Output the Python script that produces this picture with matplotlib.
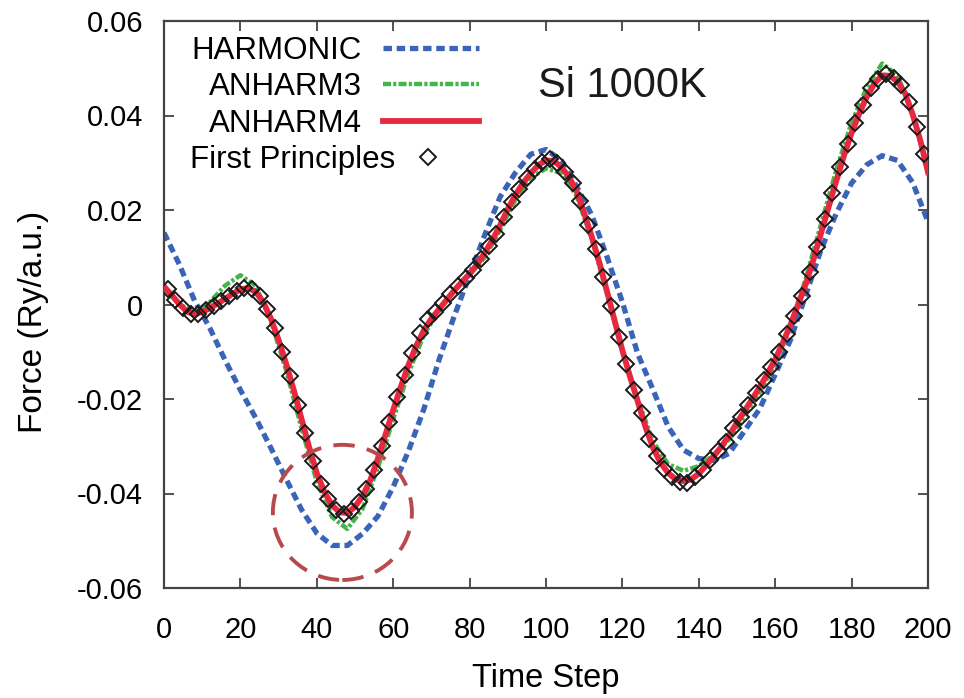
import matplotlib
matplotlib.use("Agg")
import numpy as np
import matplotlib.pyplot as plt
from matplotlib.patches import Ellipse
from matplotlib.legend_handler import HandlerLine2D

# ---------------- data ----------------
harm_x = list(range(0, 201, 4))
harmonic = [0.0152, 0.0085, 0.0008, -0.0050, -0.0118, -0.0181, -0.0240, -0.0304, -0.0370, -0.0434,
            -0.0484, -0.0510, -0.0510, -0.0485, -0.0448, -0.0386, -0.0310, -0.0222, -0.0117, -0.0024,
            0.0062, 0.0148, 0.0228, 0.0279, 0.0318, 0.0328, 0.0305, 0.0250, 0.0189, 0.0100,
            0.0005, -0.0104, -0.0180, -0.0259, -0.0308, -0.0326, -0.0330, -0.0315, -0.0267, -0.0220,
            -0.0148, -0.0075, 0.0020, 0.0116, 0.0193, 0.0257, 0.0296, 0.0315, 0.0305, 0.0258,
            0.0175]

anh3_x = list(range(0, 201, 4))
anharm3 = [0.0036, 0.0000, -0.0015, 0.0005, 0.0040, 0.0062, 0.0040, -0.0035, -0.0140, -0.0262,
           -0.0375, -0.0450, -0.0475, -0.0432, -0.0345, -0.0243, -0.0145, -0.0065, -0.0012, 0.0028,
           0.0063, 0.0100, 0.0158, 0.0222, 0.0268, 0.0288, 0.0278, 0.0230, 0.0138, 0.0022,
           -0.0100, -0.0200, -0.0290, -0.0338, -0.0352, -0.0342, -0.0318, -0.0285, -0.0235, -0.0185,
           -0.0125, -0.0045, 0.0055, 0.0170, 0.0285, 0.0385, 0.0460, 0.0510, 0.0485, 0.0405,
           0.0280]

anh4_x = list(range(0, 201, 2))
anharm4 = [0.0038, 0.0020, 0.0001, -0.0015, -0.0021, -0.0016, -0.0008, 0.0002, 0.0012, 0.0023,
           0.0032, 0.0035, 0.0027, 0.0005, -0.0030, -0.0075, -0.0126, -0.0182, -0.0242, -0.0302,
           -0.0357, -0.0397, -0.0425, -0.0440, -0.0441, -0.0428, -0.0405, -0.0372, -0.0326, -0.0275,
           -0.0223, -0.0174, -0.0128, -0.0088, -0.0055, -0.0030, -0.0010, 0.0010, 0.0030, 0.0048,
           0.0065, 0.0085, 0.0110, 0.0137, 0.0168, 0.0202, 0.0232, 0.0257, 0.0278, 0.0295,
           0.0305, 0.0304, 0.0291, 0.0270, 0.0240, 0.0193, 0.0143, 0.0088, 0.0027, -0.0035,
           -0.0097, -0.0153, -0.0205, -0.0258, -0.0303, -0.0335, -0.0357, -0.0370, -0.0374, -0.0370,
           -0.0358, -0.0340, -0.0320, -0.0300, -0.0276, -0.0250, -0.0225, -0.0200, -0.0174, -0.0146,
           -0.0116, -0.0081, -0.0043, 0.0000, 0.0043, 0.0095, 0.0151, 0.0207, 0.0262, 0.0315,
           0.0363, 0.0404, 0.0440, 0.0468, 0.0485, 0.0484, 0.0472, 0.0447, 0.0402, 0.0347,
           0.0280]

fp_x = list(range(1, 200, 2))
first_principles = [0.0032, 0.0010, -0.0008, -0.0020, -0.0021, -0.0011, -0.0004, 0.0007, 0.0017, 0.0028,
                    0.0035, 0.0033, 0.0018, -0.0010, -0.0050, -0.0100, -0.0152, -0.0212, -0.0272, -0.0332,
                    -0.0380, -0.0412, -0.0435, -0.0443, -0.0437, -0.0418, -0.0390, -0.0350, -0.0300, -0.0248,
                    -0.0196, -0.0150, -0.0103, -0.0060, -0.0030, -0.0016, 0.0003, 0.0022, 0.0040, 0.0056,
                    0.0074, 0.0097, 0.0123, 0.0150, 0.0186, 0.0217, 0.0245, 0.0268, 0.0287, 0.0302,
                    0.0307, 0.0299, 0.0280, 0.0257, 0.0219, 0.0168, 0.0118, 0.0058, -0.0003, -0.0068,
                    -0.0125, -0.0180, -0.0230, -0.0285, -0.0320, -0.0348, -0.0365, -0.0376, -0.0378, -0.0366,
                    -0.0350, -0.0330, -0.0310, -0.0290, -0.0262, -0.0238, -0.0213, -0.0188, -0.0160, -0.0132,
                    -0.0100, -0.0062, -0.0025, 0.0018, 0.0068, 0.0122, 0.0180, 0.0235, 0.0290, 0.0340,
                    0.0385, 0.0422, 0.0458, 0.0477, 0.0488, 0.0480, 0.0465, 0.0428, 0.0375, 0.0318]

xticks = [0, 20, 40, 60, 80, 100, 120, 140, 160, 180, 200]
yticks = [-0.06, -0.04, -0.02, 0, 0.02, 0.04, 0.06]
yticklabels = ["-0.06", "-0.04", "-0.02", "0", "0.02", "0.04", "0.06"]

# ---------------- figure ----------------
FONT = ['Liberation Sans', 'DejaVu Sans']
plt.rcParams['font.family'] = FONT

fig = plt.figure(figsize=(9.64, 6.98), dpi=100)
ax = fig.add_axes([164/964, (698-588)/698, (928-164)/964, (588-21)/698])

ax.plot(harm_x, harmonic, color='#3a64b8', lw=3.8, ls=(0, (1.6, 0.9)),
        label='HARMONIC', zorder=2, dash_capstyle='butt')
ax.plot(anh3_x, anharm3, color='#44b54a', lw=3.2, ls=(0, (1.8, 0.5, 0.7, 0.5)),
        label='ANHARM3', zorder=3, dash_capstyle='butt')
ax.plot(anh4_x, anharm4, color='#e8283e', lw=4.2, ls='-', label='ANHARM4', zorder=4)
fp_line, = ax.plot(fp_x, first_principles, ls='none', marker='D', markersize=8,
                   markerfacecolor='none', markeredgecolor='#1a1a1a', markeredgewidth=1.4,
                   label='First Principles', zorder=5)

# dashed highlight circle around the minimum
circ = Ellipse((46.7, -0.0440), width=36.4, height=0.0286, fill=False,
               edgecolor='#b94a4c', lw=2.8, ls=(0, (5.5, 3.2)), zorder=6)
ax.add_patch(circ)

ax.set_xlim(0, 200)
ax.set_ylim(-0.06, 0.06)
ax.set_xticks(xticks)
ax.set_xticklabels([str(t) for t in xticks], fontsize=21)
ax.set_yticks(yticks)
ax.set_yticklabels(yticklabels, fontsize=21)
ax.tick_params(axis='both', direction='in', length=7, width=1.2, top=True, right=True,
               colors='#333333', labelcolor='black')
ax.tick_params(axis='x', pad=20)
ax.tick_params(axis='y', pad=15)
for s in ax.spines.values():
    s.set_color('#444444')
    s.set_linewidth(1.6)

ax.set_xlabel('Time Step', fontsize=23.5, labelpad=14)
ax.set_ylabel('Force (Ry/a.u.)', fontsize=24, labelpad=20)
ax.yaxis.label.set_y(0.469)

ax.text(0.5995, 0.885, 'Si 1000K', transform=ax.transAxes, ha='center', va='center',
        fontsize=30, color='#1a1a1a')


class FPHandler(HandlerLine2D):
    """First Principles key: narrower sample box, marker near its left."""
    def legend_artist(self, legend, orig_handle, fontsize, handlebox):
        handlebox.width = 63 * 0.72
        return super().legend_artist(legend, orig_handle, fontsize, handlebox)

    def get_xdata(self, legend, xdescent, ydescent, width, height, fontsize):
        x = np.array([12 * 0.72 - xdescent])
        return x, x


leg = ax.legend(loc='upper right', bbox_to_anchor=(0.412, 0.974), markerfirst=False,
                frameon=False, prop={'size': 22.5}, handlelength=3.07,
                handletextpad=0.67, labelspacing=0.21, borderpad=0, borderaxespad=0,
                numpoints=1, handler_map={fp_line: FPHandler(numpoints=1)})

fig.savefig('out.png', dpi=100)
